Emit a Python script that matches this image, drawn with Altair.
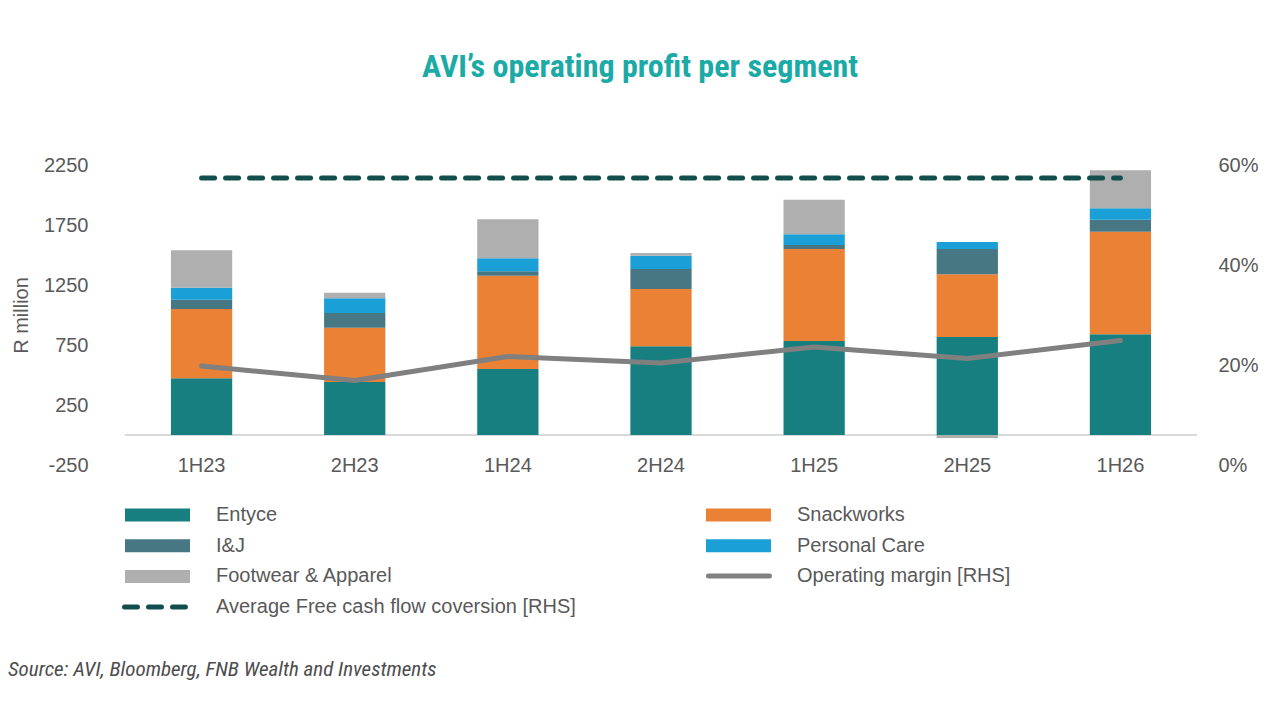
import altair as alt
import pandas as pd

# ---------------- data ----------------
periods = ["1H23", "2H23", "1H24", "2H24", "1H25", "2H25", "1H26"]
segments = ["Entyce", "Snackworks", "I&J", "Personal Care", "Footwear & Apparel"]
entyce = [472, 442, 550, 739, 783, 817, 839]
snackworks = [578, 452, 778, 478, 767, 522, 855]
ij = [78, 123, 36, 166, 33, 211, 100]
personal_care = [100, 122, 108, 111, 89, 58, 95]
footwear = [311, 47, 325, 23, 289, -25, 317]
operating_margin = [19.8, 16.9, 21.7, 20.4, 23.6, 21.3, 24.9]   # % (RHS)
avg_fcf_conversion = 57.4                                          # % (RHS)

seg_colors = ["#177F80", "#EA8134", "#467783", "#1A9FD7", "#AFAFAF"]
# legend reading order (filled column by column, two columns)
legend_order = ["Entyce", "I&J", "Footwear & Apparel", "Snackworks", "Personal Care"]
margin_color = "#808080"
fcf_color = "#134E4F"
left_ticks = [-250, 250, 750, 1250, 1750, 2250]
right_ticks = [0, 20, 40, 60]

margin_label = "Operating margin [RHS]"
fcf_label = "Average Free cash flow coversion [RHS]"
title_text = "AVI\u2019s operating profit per segment"
source_text = "Source: AVI, Bloomberg, FNB Wealth and Investments"

TXT = "#595959"
FONT = "Liberation Sans"
NARROW = "Roboto Condensed, Roboto"
FS = 20


# rounded-end legend symbols (outline pills, drawn thick so they look solid)
def pill_path(spans, h, unit):
    k = 0.5523 * h
    f = lambda v: f"{v / unit:.4f}"
    out = []
    for x0, x1 in spans:
        a, b = x0 + h, x1 - h
        out.append(
            f"M{f(a)},{f(-h)}H{f(b)}"
            f"C{f(b + k)},{f(-h)} {f(b + h)},{f(-k)} {f(b + h)},0"
            f"C{f(b + h)},{f(k)} {f(b + k)},{f(h)} {f(b)},{f(h)}"
            f"H{f(a)}"
            f"C{f(a - k)},{f(h)} {f(a - h)},{f(k)} {f(a - h)},0"
            f"C{f(a - h)},{f(-k)} {f(a - k)},{f(-h)} {f(a)},{f(-h)}Z"
        )
    return "".join(out)


UNIT = 31.5                      # symbol half-width in px -> symbolSize = (2*UNIT)^2
SYM_SIZE = (2 * UNIT) ** 2
margin_symbol = pill_path([(-31.75, 31.75)], 1.25, UNIT)
fcf_symbol = pill_path([(-31.75, -16.25), (-7.75, 7.75), (16.25, 31.75)], 1.25, UNIT)

# ---------------- tables ----------------
seg_values = [entyce, snackworks, ij, personal_care, footwear]
rows = []
for si, (seg, vals) in enumerate(zip(segments, seg_values)):
    for p, v in zip(periods, vals):
        rows.append({"period": p, "segment": seg, "idx": si, "value": v})
bars_df = pd.DataFrame(rows)

margin_df = pd.DataFrame({"period": periods, "margin": operating_margin,
                          "s": [margin_label] * len(periods)})
fcf_df = pd.DataFrame({"period": periods, "fcf": [avg_fcf_conversion] * len(periods),
                       "d": [fcf_label] * len(periods)})
src_df = pd.DataFrame({"t": [source_text]})

color_map = dict(zip(segments, seg_colors))

x_enc = alt.X(
    "period:N", sort=periods,
    scale=alt.Scale(domain=periods, paddingInner=0.6, paddingOuter=0.3),
    axis=alt.Axis(title=None, domain=False, ticks=False, labelAngle=0,
                  labelPadding=0, labelBaseline="middle", labelFontSize=FS,
                  labelColor=TXT, labelFont=FONT),
)

legend_common = dict(title=None, orient="none", padding=0, labelFontSize=FS,
                     labelColor=TXT, labelFont=FONT, labelLimit=600,
                     clipHeight=20, rowPadding=10.7)

bars = alt.Chart(bars_df).mark_bar(opacity=1).encode(
    x=x_enc,
    y=alt.Y("value:Q", stack="zero",
            scale=alt.Scale(domain=[-250, 2250], nice=False, zero=False),
            axis=alt.Axis(values=left_ticks, title="R million", grid=False,
                          domain=False, ticks=False, labelPadding=37,
                          labelExpr="'' + datum.value",
                          labelFontSize=FS, labelColor=TXT, labelFont=FONT,
                          titleFontSize=FS, titleFontWeight="normal",
                          titleColor=TXT, titleFont=FONT, titlePadding=12)),
    color=alt.Color("segment:N",
                    scale=alt.Scale(domain=legend_order,
                                    range=[color_map[s] for s in legend_order]),
                    legend=alt.Legend(legendX=0, legendY=340, columns=2,
                                      columnPadding=313, labelOffset=26,
                                      symbolType="M-1,-0.2H1V0.2H-1Z",
                                      symbolSize=4225,
                                      symbolStrokeWidth=0, symbolOpacity=1,
                                      **legend_common)),
    order=alt.Order("idx:Q"),
)

zero_rule = alt.Chart(bars_df).mark_rule(color="#D9D9D9", strokeWidth=2).encode(
    y=alt.datum(0)
)

left_layer = alt.layer(zero_rule, bars)

margin_line = alt.Chart(margin_df).mark_line(
    strokeWidth=5, strokeCap="round", strokeJoin="round"
).encode(
    x=x_enc,
    y=alt.Y("margin:Q", scale=alt.Scale(domain=[0, 60], nice=False, zero=True),
            axis=alt.Axis(orient="right", values=right_ticks, title=None,
                          grid=False, domain=False, ticks=False,
                          labelPadding=21, labelFontSize=FS, labelColor=TXT,
                          labelFont=FONT, labelExpr="datum.value + '%'")),
    stroke=alt.Stroke("s:N", scale=alt.Scale(domain=[margin_label], range=[margin_color]),
                      legend=alt.Legend(legendX=581, legendY=401, labelOffset=25,
                                        symbolType=margin_symbol, symbolSize=SYM_SIZE,
                                        symbolStrokeWidth=2.5,
                                        **legend_common)),
)

fcf_line = alt.Chart(fcf_df).mark_line(
    strokeWidth=5, strokeCap="round", color=fcf_color, strokeDash=[13, 11]
).encode(
    x=x_enc,
    y=alt.Y("fcf:Q", scale=alt.Scale(domain=[0, 60], nice=False, zero=True), axis=None),
    opacity=alt.Opacity("d:N", scale=alt.Scale(domain=[fcf_label], range=[1]),
                        legend=alt.Legend(legendX=-3, legendY=432, labelOffset=28,
                                          symbolType=fcf_symbol, symbolSize=SYM_SIZE,
                                          symbolStrokeWidth=2.5,
                                          symbolStrokeColor=fcf_color,
                                          symbolFillColor=fcf_color,
                                          **legend_common)),
)

source = alt.Chart(src_df).mark_text(
    align="left", baseline="middle", fontSize=21, fontStyle="italic",
    font=NARROW, color="#4D4D4D"
).encode(text="t:N", x=alt.value(-117), y=alt.value(505))

chart = alt.layer(left_layer, margin_line, fcf_line, source).resolve_scale(
    y="independent"
).properties(
    width=1072, height=300,
    title=alt.TitleParams(title_text, anchor="middle", fontSize=32, font=NARROW,
                          fontWeight="bold", color="#1BAAA6", offset=71, dx=-21),
    autosize=alt.AutoSizeParams(type="none"),
    padding={"left": 117, "top": 157, "right": 70, "bottom": 220},
).configure_view(stroke=None)

chart.save("out.html", embed_options={"renderer": "svg", "actions": False})
